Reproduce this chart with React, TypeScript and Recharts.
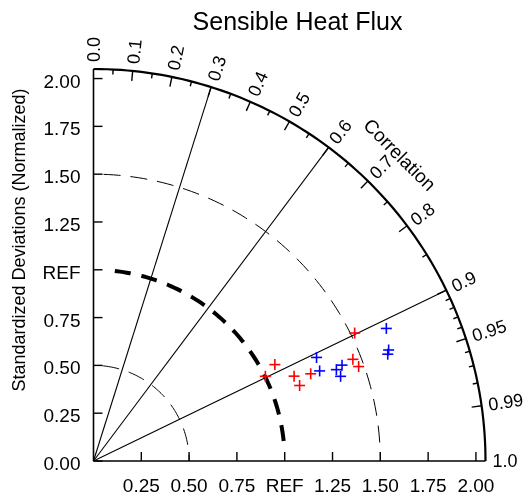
import React from 'react';
import { ScatterChart, Scatter, XAxis, YAxis, ReferenceLine, Customized } from 'recharts';

const title = 'Sensible Heat Flux';
const yTitle = 'Standardized Deviations (Normalized)';
const corrTitle = 'Correlation';

const stdTicks = [0, 0.25, 0.5, 0.75, 1, 1.25, 1.5, 1.75, 2];
const xTicks = [0.25, 0.5, 0.75, 1, 1.25, 1.5, 1.75, 2];
const corrLabels = [0, 0.1, 0.2, 0.3, 0.4, 0.5, 0.6, 0.7, 0.8, 0.9, 0.95, 0.99, 1.0];
const corrMinor = [
  0.05, 0.15, 0.25, 0.35, 0.45, 0.55, 0.65, 0.75, 0.85, 0.91, 0.92, 0.93, 0.94, 0.96, 0.97, 0.98,
];
const radialLines = [0.3, 0.6, 0.9];
const thinArcs = [0.5, 1.5];
const refStd = 1;
const maxStd = 2.05;

// normalized std and correlation of each case
const redRatio = [1.074, 1.002, 1.139, 1.148, 1.224, 1.521, 1.457, 1.472];
const redCorr = [0.883, 0.897, 0.921, 0.939, 0.928, 0.898, 0.931, 0.942];
const blueRatio = [1.681, 1.649, 1.637, 1.286, 1.273, 1.357, 1.393, 1.366];
const blueCorr = [0.911, 0.936, 0.94, 0.907, 0.929, 0.936, 0.933, 0.946];

const FONT = '"Liberation Sans", Arial, Helvetica, sans-serif';

const polar = (s: number, r: number) => ({ x: s * r, y: s * Math.sqrt(Math.max(0, 1 - r * r)) });
const arc = (s: number) =>
  Array.from({ length: 91 }, (_, i) => {
    const a = (i * Math.PI) / 180;
    return { x: s * Math.cos(a), y: s * Math.sin(a) };
  });

const fmt = (v: number) => (v === refStd ? 'REF' : v.toFixed(2));
const fmtCorr = (v: number) => (v === 0.95 || v === 0.99 ? v.toFixed(2) : v.toFixed(1));

const redPts = redRatio.map((s, i) => polar(s, redCorr[i]));
const bluePts = blueRatio.map((s, i) => polar(s, blueCorr[i]));
const labelPts = corrLabels.map((c) => ({ ...polar(maxStd, c), cc: c, text: fmtCorr(c), off: 7, title: false }));
labelPts.push({ ...polar(maxStd, Math.SQRT1_2), cc: Math.SQRT1_2, text: corrTitle, off: 41, title: true });
const majorPts = corrLabels.slice(1, -1).map((c) => ({ ...polar(maxStd, c), cc: c }));
const minorPts = corrMinor.map((c) => ({ ...polar(maxStd, c), cc: c }));

// thick REF arc: gap at both ends
const refDash = [0, 20, ...Array(9).fill([16, 11]).flat(), 16, 40].join(' ');
const thinOffset: Record<number, number> = { 0.5: 10.8, 1.5: 8.5 };

const plus = (color: string) => (p: any) => (
  <g stroke={color} strokeWidth={1.6}>
    <line x1={p.cx - 5.5} y1={p.cy} x2={p.cx + 5.5} y2={p.cy} />
    <line x1={p.cx} y1={p.cy - 5.5} x2={p.cx} y2={p.cy + 5.5} />
  </g>
);

const tickMark = (len: number) => (p: any) => {
  const t = Math.acos(p.payload.cc);
  return (
    <line
      x1={p.cx}
      y1={p.cy}
      x2={p.cx - len * Math.cos(t)}
      y2={p.cy + len * Math.sin(t)}
      stroke="#000"
      strokeWidth={1.4}
    />
  );
};

const corrLabel = (p: any) => {
  const { cc, text, off, title: isTitle } = p.payload;
  const t = Math.acos(cc);
  const x = p.cx + off * Math.cos(t);
  const y = p.cy - off * Math.sin(t);
  const deg = (t * 180) / Math.PI;
  return (
    <text
      x={x}
      y={y}
      transform={`rotate(${isTitle ? 90 - deg : -deg}, ${x}, ${y})`}
      textAnchor={isTitle ? 'middle' : 'start'}
      dominantBaseline="central"
      fontFamily={FONT}
      fontSize={isTitle ? 19 : 18}
      fill="#000"
    >
      {text}
    </text>
  );
};

const none = () => <g />;

const XTick = (p: any) => (
  <g>
    <line x1={p.x} y1={p.y} x2={p.x} y2={p.y - 9} stroke="#000" strokeWidth={1.4} />
    <text x={p.x} y={p.y + 31} textAnchor="middle" fontFamily={FONT} fontSize={19} fill="#000">
      {fmt(p.payload.value)}
    </text>
  </g>
);

const YTick = (p: any) => (
  <g>
    <line x1={p.x} y1={p.y} x2={p.x + 9} y2={p.y} stroke="#000" strokeWidth={1.4} />
    <text x={p.x - 13} y={p.y + 9} textAnchor="end" fontFamily={FONT} fontSize={19} fill="#000">
      {fmt(p.payload.value)}
    </text>
  </g>
);

const Titles = () => (
  <g fontFamily={FONT} fill="#000">
    <text x={289.5} y={22} textAnchor="middle" fontSize={25}>
      {title}
    </text>
    <text x={17} y={232} textAnchor="middle" fontSize={18} transform="rotate(-90, 17, 232)">
      {yTitle}
    </text>
  </g>
);

export default function App() {
  return (
    <div style={{ position: 'fixed', left: 8, top: 8, width: 520, height: 485 }}>
      <style>{'.recharts-wrapper, .recharts-wrapper svg { overflow: visible !important; }'}</style>
      <ScatterChart width={520} height={485} margin={{ top: 61, right: 42.5, bottom: 0, left: 25.5 }}>
        <XAxis
          type="number"
          dataKey="x"
          domain={[0, maxStd]}
          ticks={xTicks}
          interval={0}
          height={32}
          tickSize={0}
          tickMargin={0}
          tick={XTick}
          tickLine={false}
          axisLine={{ stroke: '#000', strokeWidth: 1.6 }}
        />
        <YAxis
          type="number"
          dataKey="y"
          domain={[0, maxStd]}
          ticks={stdTicks}
          interval={0}
          width={60}
          tickSize={0}
          tickMargin={0}
          tick={YTick}
          tickLine={false}
          axisLine={{ stroke: '#000', strokeWidth: 1.6 }}
        />
        {radialLines.map((c) => (
          <ReferenceLine
            key={c}
            segment={[{ x: 0, y: 0 }, polar(maxStd, c)]}
            stroke="#000"
            strokeWidth={1.1}
          />
        ))}
        {thinArcs.map((s) => (
          <Scatter
            key={s}
            data={arc(s)}
            line={{ stroke: '#000', strokeWidth: 1, strokeDasharray: '17 10', strokeDashoffset: thinOffset[s] }}
            lineType="joint"
            shape={none}
            isAnimationActive={false}
          />
        ))}
        <Scatter
          data={arc(refStd)}
          line={{ stroke: '#000', strokeWidth: 4, strokeDasharray: refDash }}
          lineType="joint"
          shape={none}
          isAnimationActive={false}
        />
        <Scatter
          data={arc(maxStd)}
          line={{ stroke: '#000', strokeWidth: 2.2 }}
          lineType="joint"
          shape={none}
          isAnimationActive={false}
        />
        <Scatter data={majorPts} shape={tickMark(10)} isAnimationActive={false} />
        <Scatter data={minorPts} shape={tickMark(5)} isAnimationActive={false} />
        <Scatter data={labelPts} shape={corrLabel} isAnimationActive={false} />
        <Scatter data={redPts} shape={plus('#ff0000')} isAnimationActive={false} />
        <Scatter data={bluePts} shape={plus('#0000ff')} isAnimationActive={false} />
        <Customized component={Titles} />
      </ScatterChart>
    </div>
  );
}
